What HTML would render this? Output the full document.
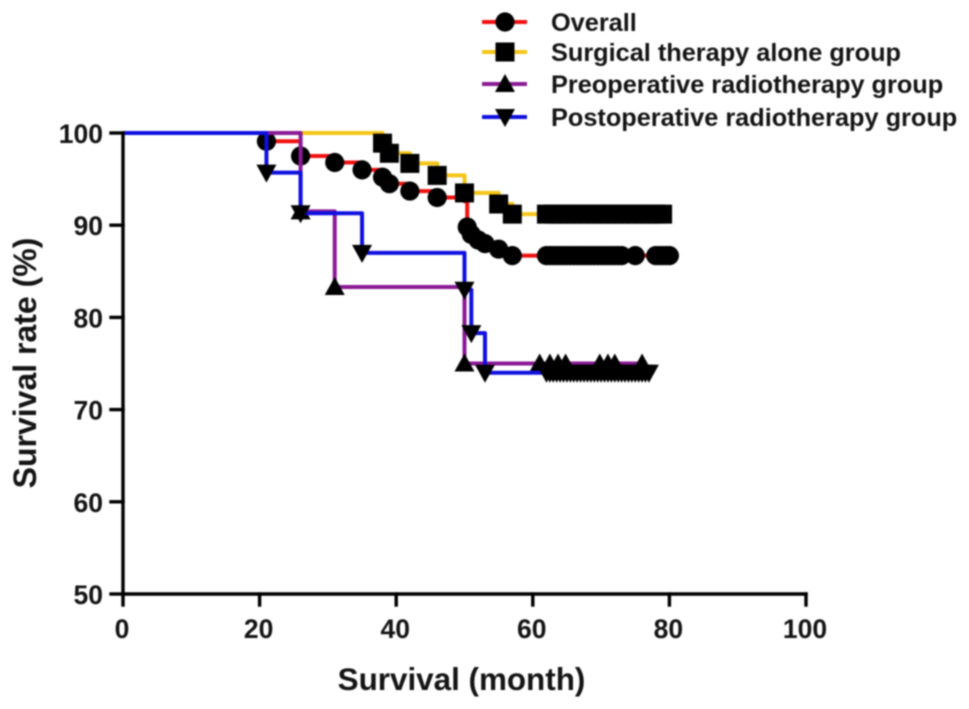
<!DOCTYPE html>
<html>
<head>
<meta charset="utf-8">
<style>
html,body{margin:0;padding:0;background:#fff;width:969px;height:709px;overflow:hidden}
svg{display:block;filter:blur(0.7px)}
text{font-family:"Liberation Sans",sans-serif;font-weight:bold;fill:#141414}
</style>
</head>
<body>
<svg id="chart" width="969" height="709" viewBox="0 0 969 709">
<text x="461.5" y="690" font-size="31.4" text-anchor="middle">Survival (month)</text>
<text transform="translate(36,363) rotate(-90)" font-size="32" text-anchor="middle">Survival rate (%)</text>
</svg>
<script>
const xTicks = [0, 20, 40, 60, 80, 100];
const yTicks = [50, 60, 70, 80, 90, 100];
const seriesNames = ["Overall", "Surgical therapy alone group", "Preoperative radiotherapy group", "Postoperative radiotherapy group"];
const seriesColors = ["#f01010", "#f5c518", "#8a1a96", "#1010e0"];
const seriesMarkers = ["circle", "square", "up", "down"];

const overallTimes = [0, 21, 26, 31, 35, 38, 39, 42, 46, 50, 50.4, 51, 52, 53, 55, 57, 62, 80];
const overallRates = [100, 99.1, 97.5, 96.8, 96, 95.2, 94.5, 93.7, 93, 92.6, 89.8, 89, 88.4, 88, 87.4, 86.7, 86.7, 86.7];
const overallMarks = [21, 26, 31, 35, 38, 39, 42, 46, 50.4, 51, 52, 53, 55, 57, 62, 62.5, 63, 63.5, 64, 64.5, 65, 65.5, 66, 66.5, 67, 67.5, 68, 68.5, 69, 69.5, 70, 70.5, 71, 71.5, 72, 72.5, 73, 75, 78, 78.5, 79, 79.5, 80];

const surgicalTimes = [0, 38, 39, 42, 46, 50, 55, 57, 79];
const surgicalRates = [100, 98.9, 97.8, 96.7, 95.4, 93.5, 92.3, 91.2, 91.2];
const surgicalMarks = [38, 39, 42, 46, 50, 55, 57, 62, 63, 64, 65, 66, 67, 68, 69, 70, 71, 72, 73, 74, 75, 76, 77, 78, 79];

const preopTimes = [0, 26, 31, 50, 76];
const preopRates = [100, 91.5, 83.3, 75, 75];
const preopMarks = [26, 31, 50, 61, 62.5, 63.7, 64.8, 69.8, 71, 72, 76];

const postopTimes = [0, 21, 26, 35, 50, 51, 53, 77];
const postopRates = [100, 95.7, 91.3, 87, 83, 78.3, 74, 74];
const postopMarks = [21, 26, 35, 50, 51, 53, 62, 62.5, 63, 63.5, 64, 64.5, 65, 65.5, 66, 66.5, 67, 67.5, 68, 68.5, 69, 69.5, 70, 70.5, 71, 71.5, 72, 72.5, 73, 73.5, 74, 74.5, 75, 75.5, 76, 76.5, 77];

const allTimes = [overallTimes, surgicalTimes, preopTimes, postopTimes];
const allRates = [overallRates, surgicalRates, preopRates, postopRates];
const allMarks = [overallMarks, surgicalMarks, preopMarks, postopMarks];

const NS = "http://www.w3.org/2000/svg";
const svg = document.getElementById("chart");
const xScale = v => 123 + (v - 0) * 6.83;
const yScale = v => 594 - (v - 50) * 9.22;

function make(tag, attrs, parent) {
  const el = document.createElementNS(NS, tag);
  for (const k in attrs) el.setAttribute(k, attrs[k]);
  (parent || svg).appendChild(el);
  return el;
}

function marker(kind, cx, cy, parent) {
  let el;
  if (kind === "circle") {
    el = make("circle", {cx: cx, cy: cy, r: 9.6, fill: "#000"}, parent);
  } else if (kind === "square") {
    el = make("rect", {x: cx - 9.5, y: cy - 9.5, width: 19, height: 19, fill: "#000"}, parent);
  } else if (kind === "up") {
    el = make("polygon", {points: `${cx},${cy - 10} ${cx + 10},${cy + 8} ${cx - 10},${cy + 8}`, fill: "#000"}, parent);
  } else {
    el = make("polygon", {points: `${cx},${cy + 10} ${cx + 10},${cy - 8} ${cx - 10},${cy - 8}`, fill: "#000"}, parent);
  }
  return el;
}

function rateAt(s, t) {
  let r = allRates[s][0];
  for (let i = 0; i < allTimes[s].length; i++) {
    if (allTimes[s][i] <= t) r = allRates[s][i];
  }
  return r;
}

for (let s = 0; s < seriesNames.length; s++) {
  const g = make("g", {});
  
  
  let d = "M" + xScale(allTimes[s][0]) + "," + yScale(allRates[s][0]);
  for (let i = 1; i < allTimes[s].length; i++) {
    d += "H" + xScale(allTimes[s][i]) + "V" + yScale(allRates[s][i]);
  }
  const line = make("path", {d: d, fill: "none", stroke: seriesColors[s], "stroke-width": 4, "stroke-linejoin": "round"}, g);
  
  
  allMarks[s].forEach(t => {
    const m = marker(seriesMarkers[s], xScale(t), yScale(rateAt(s, t)), g);
    
    
  });
}

const axisAttrs = {stroke: "#000", "stroke-width": 3.4, "stroke-linecap": "square"};
const xAxis = make("line", Object.assign({x1: xScale(0), x2: xScale(100), y1: yScale(50), y2: yScale(50)}, axisAttrs));


const yAxis = make("line", Object.assign({x1: xScale(0), x2: xScale(0), y1: yScale(50), y2: yScale(100)}, axisAttrs));



xTicks.forEach(v => {
  const t = make("line", Object.assign({x1: xScale(v), x2: xScale(v), y1: yScale(50), y2: yScale(50) + 11}, axisAttrs));
  
  
  const l = make("text", {x: xScale(v) - 1, y: 638, "font-size": 26.5, "text-anchor": "middle"});
  l.textContent = v;
  
  
});

yTicks.forEach(v => {
  const t = make("line", Object.assign({x1: xScale(0), x2: xScale(0) - 12, y1: yScale(v), y2: yScale(v)}, axisAttrs));
  
  
  const l = make("text", {x: 103, y: yScale(v) + 10, "font-size": 26.5, "text-anchor": "end"});
  l.textContent = v;
  
  
});

const legendRows = [22, 52, 84, 117];
seriesNames.forEach((name, s) => {
  const g = make("g", {});
  
  
  const y = legendRows[s];
  const ln = make("line", {x1: 482, x2: 527, y1: y, y2: y, stroke: seriesColors[s], "stroke-width": 4}, g);
  
  
  const m = marker(seriesMarkers[s], 505, y, g);
  
  
  const tx = make("text", {x: 551, y: y + 9, "font-size": 25.3}, g);
  tx.textContent = name;
  
  
});
</script>
</body>
</html>
